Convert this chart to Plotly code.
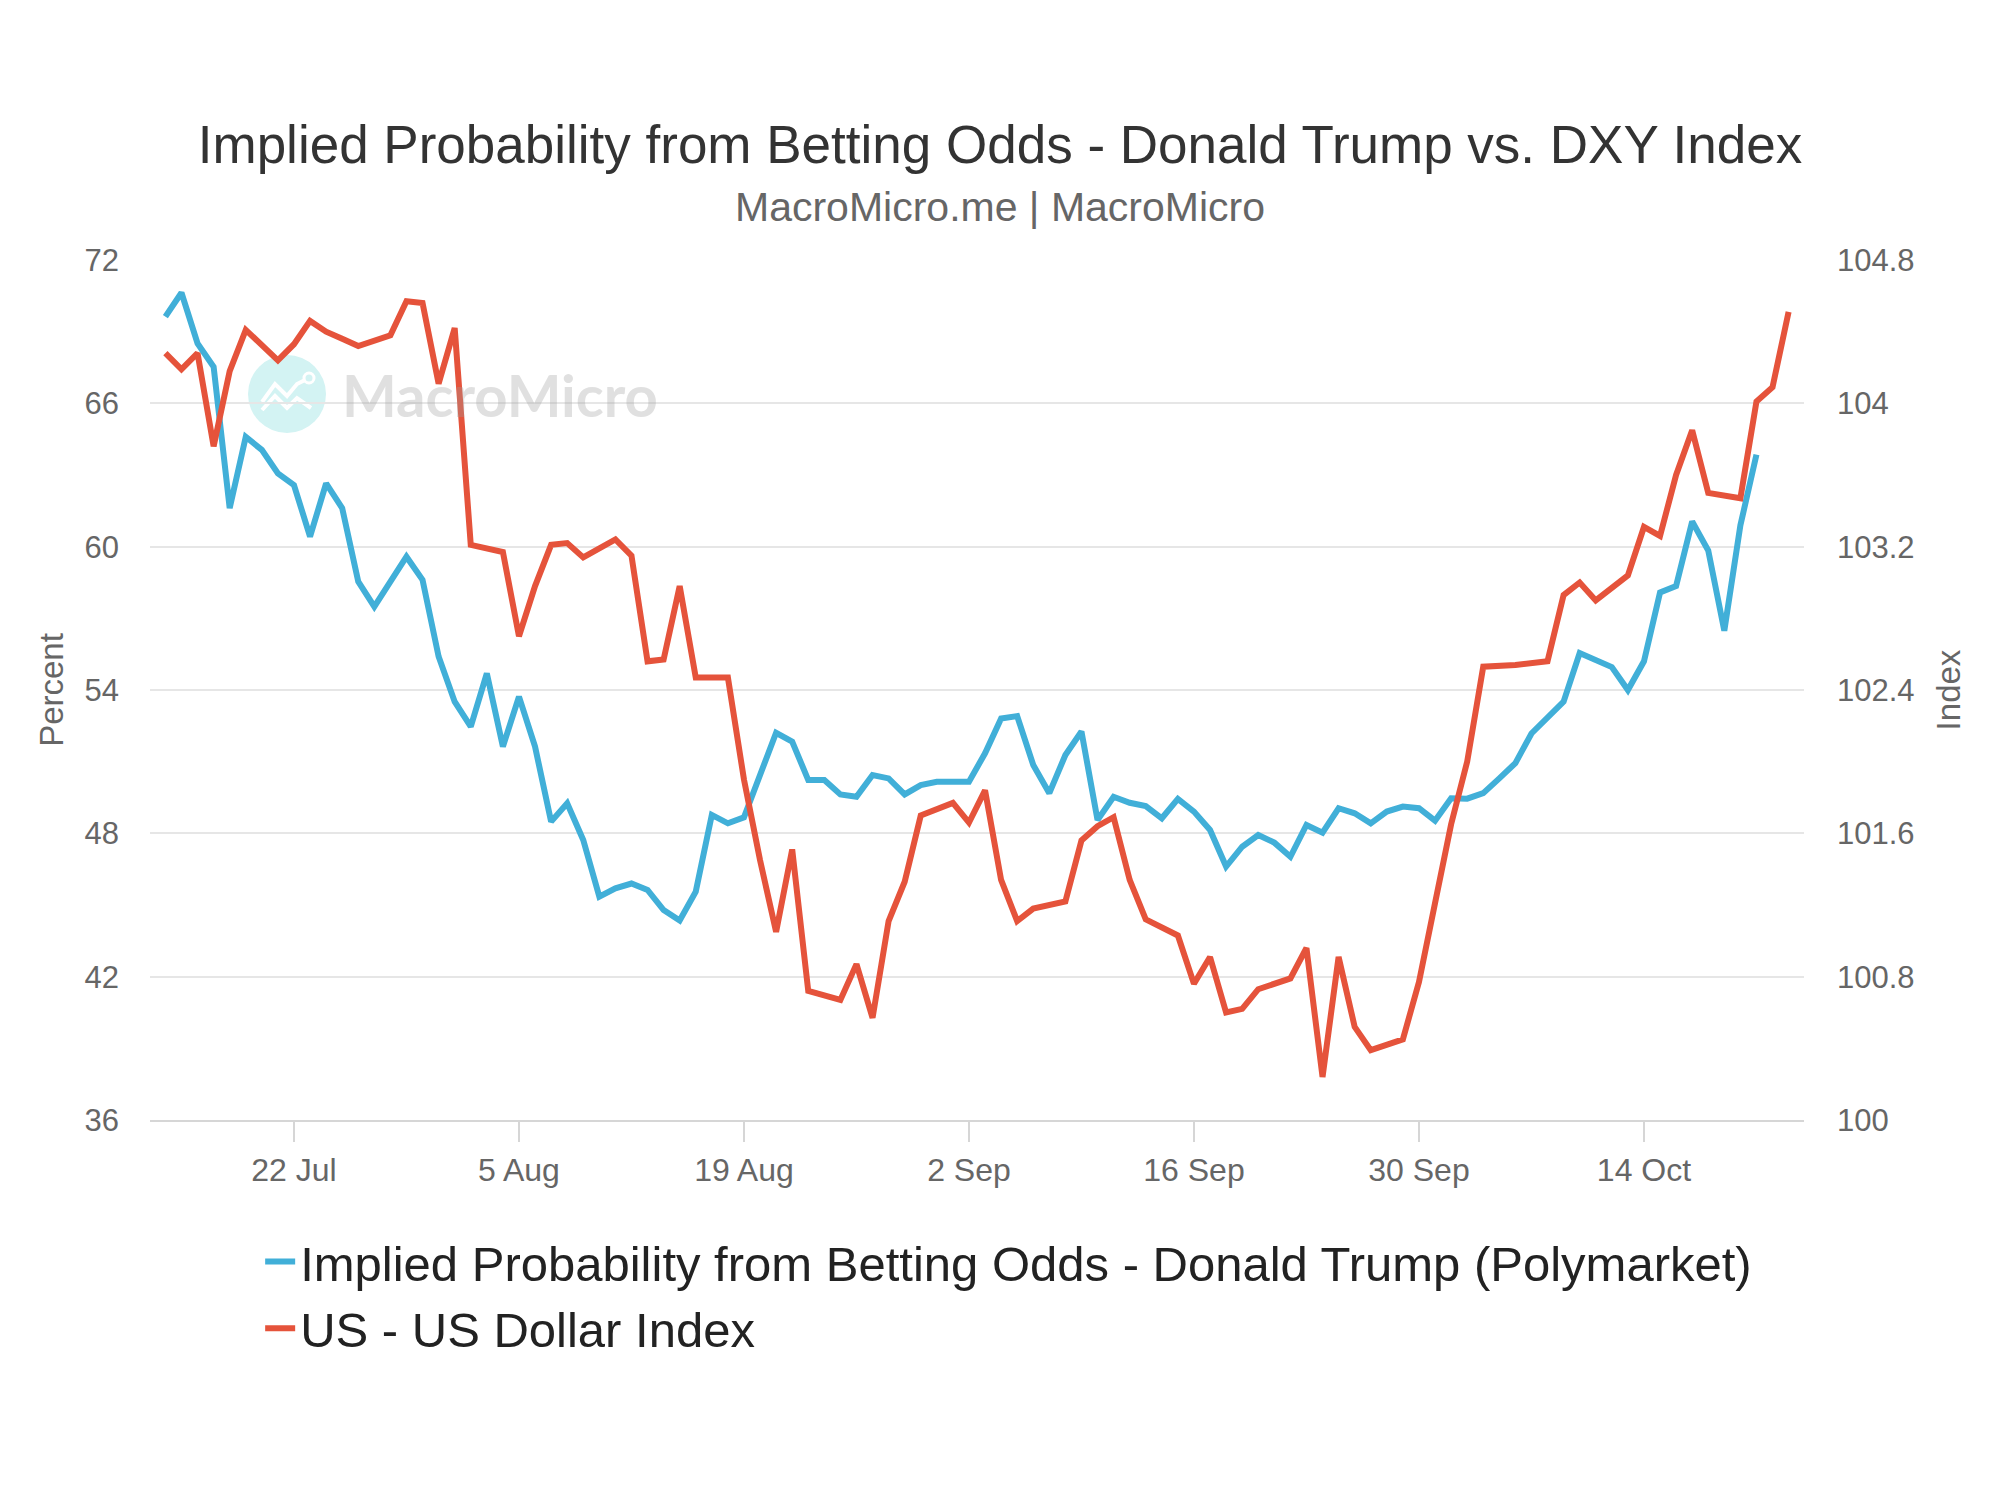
import pandas as pd
import plotly.graph_objects as go

# ---- data -------------------------------------------------------------
dates = [d.strftime("%Y-%m-%d") for d in pd.date_range("2024-07-14", "2024-10-23", freq="D")]

trump_prob = [
    # Jul 14-31
    69.63, 70.63, 68.51, 67.53, 61.61, 64.60, 64.05, 63.07, 62.58, 60.42,
    62.65, 61.61, 58.54, 57.49, 58.54, 59.58, 58.61, 55.40,
    # Aug 1-31
    53.51, 52.47, 54.70, 51.63, 53.72, 51.63, 48.49, 49.26, 47.72, 45.35,
    45.70, 45.90, 45.63, 44.79, 44.35, 45.56, 48.77, 48.42, 48.67, 50.44,
    52.21, 51.84, 50.23, 50.23, 49.63, 49.53, 50.44, 50.30, 49.63, 50.02,
    50.16,
    # Sep 1-30
    50.16, 50.16, 51.35, 52.81, 52.91, 50.86, 49.68, 51.28, 52.26, 48.56,
    49.53, 49.28, 49.14, 48.63, 49.44, 48.91, 48.14, 46.61, 47.44, 47.93,
    47.61, 47.02, 48.35, 48.03, 49.05, 48.84, 48.42, 48.91, 49.12, 49.05,
    # Oct 1-21
    48.53, 49.47, 49.45, 49.68, 50.30, 50.94, 52.18, 52.88, 53.51, 55.55,
    55.28, 54.96, 54.00, 55.20, 58.08, 58.35, 61.05, 59.84, 56.48, 60.89,
    63.85,
    # Oct 22-23 (no data)
    None, None,
]

dxy = [
    # Jul 14-31
    104.28, 104.19, 104.28, 103.76, 104.18, 104.41, None, 104.24, 104.33, 104.46,
    104.40, 104.36, 104.32, None, 104.38, 104.57, 104.56, 104.11,
    # Aug 1-31
    104.42, 103.21, None, 103.17, 102.70, 102.98, 103.21, 103.22, 103.14, None,
    103.24, 103.15, 102.56, 102.57, 102.98, 102.47, None, 102.47, 101.90, 101.45,
    101.05, 101.51, 100.72, None, 100.67, 100.87, 100.57, 101.11, 101.33, 101.70,
    None,
    # Sep 1-30
    101.77, 101.66, 101.84, 101.34, 101.11, 101.18, None, 101.22, 101.56, 101.64,
    101.69, 101.34, 101.12, None, 101.03, 100.76, 100.91, 100.60, 100.62, 100.73,
    None, 100.79, 100.96, 100.24, 100.91, 100.52, 100.39, None, 100.45, 100.77,
    # Oct 1-23
    101.21, 101.65, 102.00, 102.53, None, 102.54, 102.55, 102.56, 102.93, 103.00,
    102.90, None, 103.04, 103.31, 103.26, 103.60, 103.85, 103.50, None, 103.47,
    104.01, 104.09, 104.51,
]

x_tick_dates = ["2024-07-22", "2024-08-05", "2024-08-19", "2024-09-02",
                "2024-09-16", "2024-09-30", "2024-10-14"]
x_tick_labels = ["22 Jul", "5 Aug", "19 Aug", "2 Sep", "16 Sep", "30 Sep", "14 Oct"]
left_ticks = [36, 42, 48, 54, 60, 66, 72]
right_ticks = [100, 100.8, 101.6, 102.4, 103.2, 104, 104.8]
right_tick_labels = ["100", "100.8", "101.6", "102.4", "103.2", "104", "104.8"]

name_prob = "Implied Probability from Betting Odds - Donald Trump (Polymarket)"
name_dxy = "US - US Dollar Index"
title_text = "Implied Probability from Betting Odds - Donald Trump vs. DXY Index"
subtitle_text = "MacroMicro.me | MacroMicro"

BLUE = "#41afd8"
RED = "#e5533b"
FONT = "Liberation Sans, Arial, Helvetica, sans-serif"
GRID = "#e6e6e6"

# page body has an 8px margin: figure occupies 8..2000 x 8..1500
FIG_W, FIG_H = 1992, 1492

# ---- figure -----------------------------------------------------------
fig = go.Figure()
fig.add_trace(go.Scatter(x=dates, y=trump_prob, name=name_prob, mode="lines",
                         line=dict(color=BLUE, width=6), connectgaps=False,
                         yaxis="y"))
fig.add_trace(go.Scatter(x=dates, y=dxy, name=name_dxy, mode="lines",
                         line=dict(color=RED, width=6), connectgaps=True,
                         yaxis="y2"))

fig.update_layout(
    width=FIG_W, height=FIG_H,
    margin=dict(l=142, r=196, t=252, b=380, pad=0),
    paper_bgcolor="white", plot_bgcolor="white",
    font=dict(family=FONT, color="#666666", size=31),
    title=dict(text=title_text, x=992 / FIG_W, xanchor="center", xref="container",
               y=1 - 136 / FIG_H, yref="container", yanchor="middle",
               font=dict(size=53, color="#333333", family=FONT)),
    showlegend=True,
    legend=dict(orientation="v", x=0.0666, xanchor="left", y=-0.12, yanchor="top",
                font=dict(size=49, color="#222222", family=FONT),
                bgcolor="rgba(0,0,0,0)", itemwidth=30, tracegroupgap=0),
    xaxis=dict(
        type="date",
        range=["2024-07-13 01:00", "2024-10-23 23:00"],
        tickvals=x_tick_dates, ticktext=x_tick_labels,
        ticks="outside", ticklen=20, tickwidth=2, tickcolor="#d6d6d6",
        showgrid=False, zeroline=False,
        showline=True, linecolor="#d6d6d6", linewidth=2,
        tickfont=dict(size=32, color="#666666"),
        ticklabelstandoff=1,
    ),
    yaxis=dict(
        range=[36, 72], tickvals=left_ticks,
        showgrid=True, gridcolor=GRID, gridwidth=2, zeroline=False,
        showline=False, ticks="",
        tickfont=dict(size=31, color="#666666"),
        ticklabelstandoff=30,
        title=dict(text="Percent", font=dict(size=33, color="#666666"), standoff=10),
    ),
    yaxis2=dict(
        range=[100, 104.8], tickvals=right_ticks, ticktext=right_tick_labels,
        overlaying="y", side="right",
        showgrid=False, zeroline=False, showline=False, ticks="",
        tickfont=dict(size=31, color="#666666"),
        ticklabelstandoff=32,
        title=dict(text="Index", font=dict(size=33, color="#666666"), standoff=23),
    ),
)

# subtitle
fig.add_annotation(text=subtitle_text, xref="paper", yref="paper",
                   x=(1000 - 150) / 1654, y=1 + (260 - 207) / 860,
                   xanchor="center", yanchor="middle",
                   showarrow=False, font=dict(size=41, color="#666666", family=FONT))

# watermark (circle logo + text)
wm_x = (287 - 150) / 1654
wm_y = (1120 - 394) / 860
fig.add_shape(type="circle", xref="paper", yref="paper",
              xsizemode="pixel", ysizemode="pixel",
              xanchor=wm_x, yanchor=wm_y,
              x0=-39, x1=39, y0=-39, y1=39,
              fillcolor="#d3f3f3", line=dict(width=0), layer="below")
for p in ["M -25 -8 L -12 10 L 0 -2 L 10 10 L 18 14",
          "M -25 -16 L -12 -2 L 0 -14 L 10 -4 L 24 -14"]:
    fig.add_shape(type="path", xref="paper", yref="paper",
                  xsizemode="pixel", ysizemode="pixel",
                  xanchor=wm_x, yanchor=wm_y, path=p,
                  line=dict(color="white", width=4), layer="below")
fig.add_shape(type="circle", xref="paper", yref="paper",
              xsizemode="pixel", ysizemode="pixel",
              xanchor=wm_x, yanchor=wm_y,
              x0=17, x1=27, y0=11, y1=21,
              fillcolor="#d3f3f3", line=dict(color="white", width=3), layer="below")
fig.add_annotation(text="MacroMicro", xref="paper", yref="paper",
                   x=(340 - 150) / 1654, y=wm_y, xanchor="left", yanchor="middle",
                   showarrow=False,
                   font=dict(size=58, color="rgba(160,160,160,0.32)", family="Lato",
                             weight="bold"))

fig.write_html("out.html")
